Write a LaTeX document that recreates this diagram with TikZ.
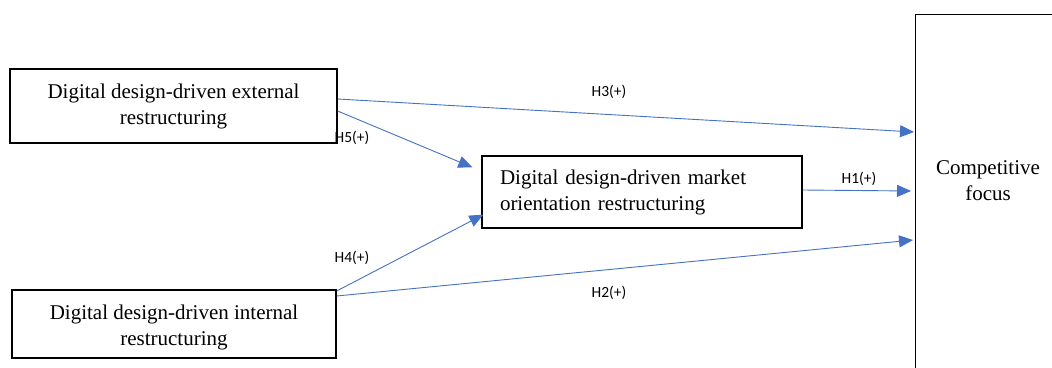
\documentclass[tikz,border=0pt]{standalone}
\usepackage{fontspec}
\setmainfont{Liberation Serif}
\newfontfamily\lblfont{Carlito}
\usetikzlibrary{arrows.meta,calc}
\definecolor{arrowblue}{HTML}{4472C4}
\begin{document}
\begin{tikzpicture}[x=1pt,y=-1pt,
  box/.style={draw=black,line width=1.3pt,inner sep=0pt,font=\fontsize{21}{26}\selectfont,align=center},
  txt/.style={inner sep=0pt,font=\fontsize{21}{26}\selectfont,align=center},
  link/.style={draw=arrowblue,line width=0.9pt,-{Triangle[length=14pt,width=12pt]}},
  lbl/.style={font=\lblfont\fontsize{15.5}{18}\selectfont,inner sep=0pt,anchor=center}]
\useasboundingbox (0,0) rectangle (1052,367);
\clip (0,0) rectangle (1052,367);
\fill[white] (0,0) rectangle (1052,367);
% boxes
\node[box,minimum width=327pt,minimum height=74pt] (ext) at (173.5,106) {Digital design-driven external\\restructuring};
\node[box,minimum width=324pt,minimum height=68pt] (int) at (174,324) {};
\node[txt] (inttext) at ($(int.center)+(0,3)$) {Digital design-driven internal\\restructuring};
\node[box,minimum width=320pt,minimum height=72pt,align=left,text width=284pt] (mkt) at (642,192) {Digital design-driven market\\orientation restructuring};
\node[box,minimum width=200pt,minimum height=400pt,anchor=north west] (cf) at (915,14) {};
\node[txt] (cftext) at (988,181) {Competitive\\focus};
% anchor points
\coordinate (extA) at ($(ext.east)+(0,-7)$);
\coordinate (extB) at ($(ext.east)+(0,5)$);
\coordinate (intA) at ($(int.east)+(0,-33)$);
\coordinate (intB) at ($(int.east)+(0,-28)$);
\coordinate (mktA) at ($(mkt.east)+(0,-2)$);
\coordinate (mktIn1) at ($(mkt.north west)+(-9,12)$);
\coordinate (mktIn2) at ($(mkt.south west)+(2,-14)$);
\coordinate (cf3) at ($(cf.north west)+(-1,118)$);
\coordinate (cf1) at ($(cf.north west)+(-4,177)$);
\coordinate (cf2) at ($(cf.north west)+(-2,226)$);
% connectors
\draw[link] (extA) -- (cf3);
\draw[link] (extB) -- (mktIn1);
\draw[link] (mktA) -- (cf1);
\draw[link] (intA) -- (mktIn2);
\draw[link] (intB) -- (cf2);
% labels
\node[lbl] (h3) at (609,92) {H3(+)};
\node[lbl] (h5) at (352,138) {H5(+)};
\node[lbl] (h1) at (859,179) {H1(+)};
\node[lbl] (h4) at (352,258) {H4(+)};
\node[lbl] (h2) at (609,293) {H2(+)};
\end{tikzpicture}
\end{document}
